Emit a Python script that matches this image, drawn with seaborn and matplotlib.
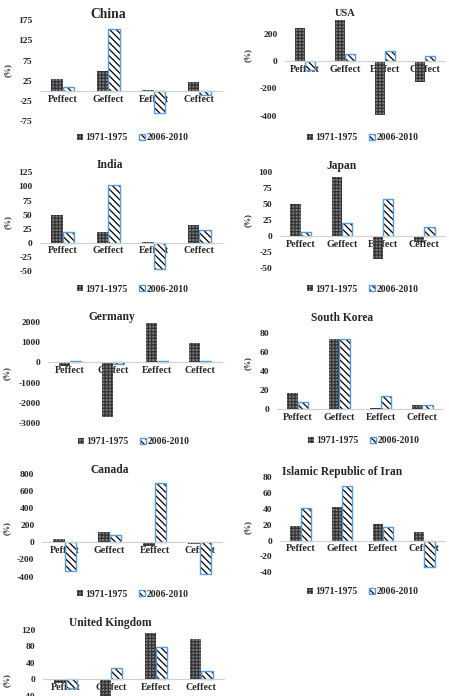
import matplotlib
matplotlib.use('Agg')
import matplotlib.pyplot as plt
import numpy as np
import pandas as pd
import seaborn as sns
from matplotlib.patches import Rectangle, Patch
from matplotlib.ticker import FixedLocator

# ---------------- data ----------------
categories = ['Peffect', 'Geffect', 'Eeffect', 'Ceffect']
periods = ['1971-1975', '2006-2010']

china_1971 = [30, 49, 3, 22]
china_2006 = [9, 153, -55, -10]
usa_1971 = [240, 300, -395, -156]
usa_2006 = [-68, 49, 75, 39]
india_1971 = [49, 19, 1, 32]
india_2006 = [20, 102, -46, 23]
japan_1971 = [50, 92, -36, -9]
japan_2006 = [6, 21, 58, 14]
germany_1971 = [-180, -2710, 1920, 940]
germany_2006 = [45, -80, 90, 50]
korea_1971 = [17.6, 74, 1, 5]
korea_2006 = [8, 73.5, 13.7, 5]
canada_1971 = [39, 125, -44, -20]
canada_2006 = [-334, 86, 694, -365]
iran_1971 = [18.5, 43, 20.7, 11.4]
iran_2006 = [41, 69, 17.7, -33]
uk_1971 = [-8, -45, 112, 97.5]
uk_2006 = [-20, 28, 77, 21]

titles = ['China', 'USA', 'India', 'Japan', 'Germany', 'South Korea',
          'Canada', 'Islamic Republic of Iran', 'United Kingdom']
series_1971 = [china_1971, usa_1971, india_1971, japan_1971, germany_1971,
               korea_1971, canada_1971, iran_1971, uk_1971]
series_2006 = [china_2006, usa_2006, india_2006, japan_2006, germany_2006,
               korea_2006, canada_2006, iran_2006, uk_2006]
yticks_list = [
    [-75, -25, 25, 75, 125, 175],
    [-400, -200, 0, 200],
    [-50, -25, 0, 25, 50, 75, 100, 125],
    [-50, -25, 0, 25, 50, 75, 100],
    [-3000, -2000, -1000, 0, 1000, 2000],
    [0, 20, 40, 60, 80],
    [-400, -200, 0, 200, 400, 600, 800],
    [-40, -20, 0, 20, 40, 60, 80],
    [-40, 0, 40, 80, 120],
]
ylims = [(-75, 175), (-400, 310), (-50, 125), (-50, 100), (-3000, 2000),
         (0, 80), (-400, 800), (-40, 80), (-40, 120)]

# ---------------- layout (pixels) ----------------
W, H = 449, 696
boxes = [  # left, right, top, bottom
    (40, 222, 20, 121.5), (285, 445, 18.7, 115.7),
    (40, 222, 172.3, 271), (280, 445, 172.3, 267.9),
    (48, 222, 321.7, 423.3), (277, 443, 333.3, 409.3),
    (42, 222, 474.3, 576.5), (280, 445, 477.3, 572.3),
    (43, 224, 629.7, 695.8),
]
title_pos = [(108, 14), (345, 13.5), (110, 165), (342, 166), (112, 316.7),
             (342, 317.7), (110, 470), (342, 471.7), (110, 623.3)]
title_size = [9.8, 7.5, 8.3, 8.3, 8.3, 8.3, 8.3, 8.3, 8.3]
legend_pos = [(133, 138), (363, 138), (133, 289), (363, 289), (134, 441.7),
              (364, 440.7), (133, 594.3), (363, 592), None]
ylabel_pos = [(8, 70), (248, 55), (8, 221.7), (248, 220), (7, 373),
              (248, 363), (7, 528), (248, 527), (7, 680)]

sns.set_style('white')
plt.rcParams['font.family'] = ['Liberation Serif', 'DejaVu Serif']
plt.rcParams['font.weight'] = 'bold'
plt.rcParams['hatch.linewidth'] = 0.9
plt.rcParams['axes.unicode_minus'] = False

GRAY_FACE = '#7d7d7d'
GRAY_HATCH = '#333333'
BLUE = '#5b9bd5'
AXIS_GRAY = '#d0d0d0'


def fx(x):
    return x / W


def fy(y):
    return 1 - y / H


fig = plt.figure(figsize=(W / 100, H / 100), dpi=100)

for i in range(9):
    l, r, t, b = boxes[i]
    ax = fig.add_axes([fx(l), fy(b), (r - l) / W, (b - t) / H])
    ax.patch.set_alpha(0)
    df = pd.DataFrame({
        'category': categories * 2,
        'period': [periods[0]] * 4 + [periods[1]] * 4,
        'value': list(series_1971[i]) + list(series_2006[i]),
    })
    sns.barplot(data=df, x='category', y='value', hue='period',
                order=categories, hue_order=periods, width=0.5,
                palette=[GRAY_FACE, 'white'], saturation=1, legend=False,
                errorbar=None, ax=ax)
    for bar in ax.containers[0]:
        bar.set_facecolor(GRAY_FACE)
        bar.set_edgecolor(GRAY_HATCH)
        bar.set_hatch('+++++')
        bar.set_linewidth(0)
    for bar in ax.containers[1]:
        bar.set_facecolor('white')
        bar.set_edgecolor('black')
        bar.set_hatch('\\\\\\\\\\')
        bar.set_linewidth(0)
        ax.add_patch(Rectangle(bar.get_xy(), bar.get_width(), bar.get_height(),
                               fill=False, edgecolor=BLUE, linewidth=1.0,
                               zorder=bar.get_zorder() + 0.1))
    ax.set_xlim(-0.5, 3.5)
    ax.set_ylim(*ylims[i])
    ax.set_yticks(yticks_list[i])
    ax.set_xlabel('')
    ax.set_ylabel('')
    for s in ['top', 'left', 'right']:
        ax.spines[s].set_visible(False)
    ax.spines['bottom'].set_position(('data', 0))
    ax.spines['bottom'].set_color(AXIS_GRAY)
    ax.spines['bottom'].set_linewidth(0.8)
    ax.tick_params(axis='y', length=0, pad=5.5, labelsize=6.8)
    ax.tick_params(axis='x', which='major', length=0, pad=2.5, labelsize=7.2)
    ax.xaxis.set_minor_locator(FixedLocator([-0.5, 0.5, 1.5, 2.5, 3.5]))
    ax.tick_params(axis='x', which='minor', length=3, color=AXIS_GRAY,
                   width=0.8, direction='out')
    for lab in ax.get_xticklabels() + ax.get_yticklabels():
        lab.set_fontweight('bold')

    tx, ty = title_pos[i]
    fig.text(fx(tx), fy(ty), titles[i], ha='center', va='center',
             fontsize=title_size[i], fontweight='bold')
    yx, yy = ylabel_pos[i]
    fig.text(fx(yx), fy(yy), '(%)', ha='center', va='center', rotation=90,
             fontsize=6, fontweight='bold')

    if legend_pos[i] is not None:
        h1 = Patch(facecolor=GRAY_FACE, edgecolor=GRAY_HATCH, hatch='+++++',
                   linewidth=0)
        h2 = (Patch(facecolor='white', edgecolor='black', hatch='\\\\\\\\\\',
                    linewidth=0),
              Patch(fill=False, edgecolor=BLUE, linewidth=1.0))
        lx, ly = legend_pos[i]
        fig.legend([h1, h2], periods, loc='center',
                   bbox_to_anchor=(fx(lx), fy(ly)), ncol=2, frameon=False,
                   handlelength=0.6, handleheight=0.6,
                   handletextpad=0.2, columnspacing=1.2, borderpad=0,
                   borderaxespad=0, prop={'weight': 'bold', 'size': 7})

fig.savefig('out.png', dpi=100)
